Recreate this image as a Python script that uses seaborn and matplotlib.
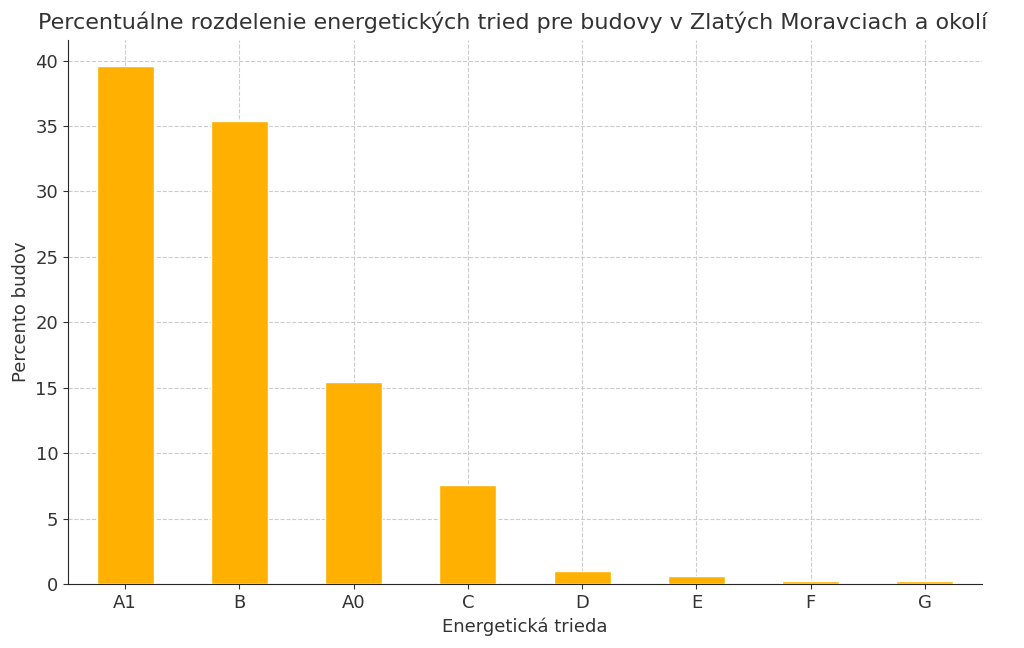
import matplotlib
matplotlib.use("Agg")
import matplotlib.pyplot as plt
import seaborn as sns
import pandas as pd

categories = ["A1", "B", "A0", "C", "D", "E", "F", "G"]
values = [39.6, 35.4, 15.4, 7.6, 1.0, 0.6, 0.25, 0.2]

sns.set_style("ticks")
plt.rcParams['font.family'] = ['DejaVu Sans']
df = pd.DataFrame({"cat": categories, "val": values})

fig = plt.figure(figsize=(10.24, 6.48), dpi=100)
ax = fig.add_axes([0.0664, 0.0988, 0.8926, 0.84])
sns.barplot(data=df, x="cat", y="val", color="#FFB000", saturation=1, width=0.5, ax=ax, zorder=3)
ax.set_axisbelow(True)
ax.grid(True, linestyle="--", color="#cccccc", linewidth=0.8)
ax.set_ylim(0, 41.6)
ax.set_xlim(-0.5, 7.5)
for s in ["top", "right"]:
    ax.spines[s].set_visible(False)
ax.tick_params(labelsize=13, colors="#333333")
ax.tick_params(axis="both", colors="#333333", labelcolor="#333333")
ax.set_xlabel("Energetická trieda", fontsize=13, color="#333333")
ax.set_ylabel("Percento budov", fontsize=13, color="#333333")
fig.text(0.037, 0.965, "Percentuálne rozdelenie energetických tried pre budovy v Zlatých Moravciach a okolí",
         fontsize=16, color="#333333", ha="left", va="center")
fig.savefig("out.png", dpi=100)
